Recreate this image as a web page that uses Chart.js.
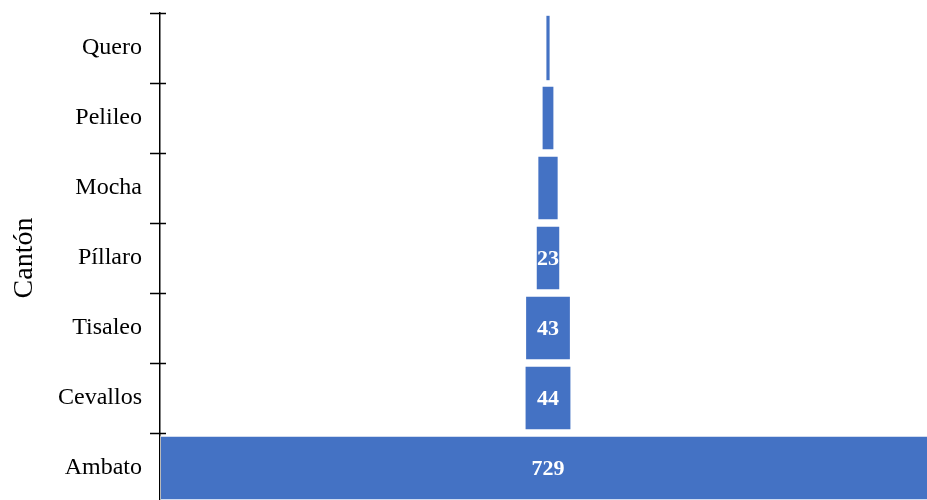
<!DOCTYPE html>
<html>
<head>
<meta charset="utf-8">
<script src="https://cdn.jsdelivr.net/npm/chart.js@4"></script>
<style>
html,body{margin:0;padding:0;overflow:hidden;background:#fff;}
canvas{display:block;}
</style>
</head>
<body>
<canvas id="c" width="927" height="503"></canvas>
<script>
const categories = ["Quero", "Pelileo", "Mocha", "Píllaro", "Tisaleo", "Cevallos", "Ambato"];
const values = [3, 12, 20, 23, 43, 44, 729];
const shownLabels = [null, null, null, "23", "43", "44", "729"];
const axisTitle = "Cantón";

const barColor = "#4472C4";
const serif = "'Liberation Serif', 'DejaVu Serif', serif";

const floating = values.map(v => [-v / 2, v / 2]);
const half = values[values.length - 1] / 2;

const crossTicks = {
  id: 'crossTicks',
  afterDraw(chart) {
    const s = chart.scales.y;
    const ctx = chart.ctx;
    const n = categories.length;
    ctx.save();
    ctx.strokeStyle = '#000';
    ctx.lineWidth = 1.5;
    for (let i = 0; i <= n; i++) {
      const y = Math.round(s.top + i * (s.height / n)) + 0.5;
      ctx.beginPath();
      ctx.moveTo(s.right - 10, y);
      ctx.lineTo(s.right + 6, y);
      ctx.stroke();
    }
    ctx.restore();
  }
};

const dataLabels = {
  id: 'dataLabels',
  afterDatasetsDraw(chart) {
    const meta = chart.getDatasetMeta(0);
    const ctx = chart.ctx;
    const xs = chart.scales.x;
    ctx.save();
    ctx.fillStyle = '#fff';
    ctx.font = "bold 22px " + serif;
    ctx.textAlign = 'center';
    ctx.textBaseline = 'middle';
    meta.data.forEach((bar, i) => {
      if (!shownLabels[i]) return;
      const x = xs.getPixelForValue(0);
      ctx.fillText(shownLabels[i], x, bar.y + 1);
    });
    ctx.restore();
  }
};

new Chart(document.getElementById('c'), {
  type: 'bar',
  data: {
    labels: categories,
    datasets: [{
      data: floating,
      backgroundColor: barColor,
      borderColor: 'rgba(255,255,255,0.45)',
      borderWidth: (c) => (values[c.dataIndex] < 6 ? 0 : 1),
      borderSkipped: false,
      barPercentage: 0.92,
      categoryPercentage: 1.0
    }]
  },
  options: {
    indexAxis: 'y',
    responsive: false,
    animation: false,
    layout: { padding: { top: 13, left: 0, right: 0, bottom: 0 } },
    plugins: { legend: { display: false }, tooltip: { enabled: false } },
    scales: {
      x: {
        display: false,
        min: -half,
        max: half * (927 - 548) / (548 - 160)
      },
      y: {
        afterFit(s) { s.width = 160; s.paddingTop = 0; s.paddingBottom = 0; },
        grid: { display: false, offset: true },
        border: { display: true, color: '#000', width: 1.5 },
        ticks: {
          color: '#000',
          padding: 10,
          font: { family: serif, size: 24 }
        },
        title: {
          display: true,
          text: axisTitle,
          color: '#000',
          padding: { top: 8, bottom: 0 },
          font: { family: serif, size: 28 }
        }
      }
    }
  },
  plugins: [crossTicks, dataLabels]
});
</script>
</body>
</html>
